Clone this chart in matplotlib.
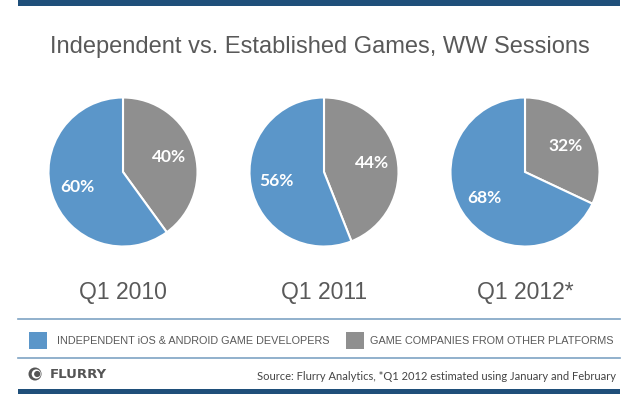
import matplotlib
matplotlib.use("Agg")
import matplotlib.pyplot as plt
from matplotlib.patches import Rectangle, Circle

W, H = 640, 394

TITLE      = "Independent vs. Established Games, WW Sessions"
PERIODS    = ["Q1 2010", "Q1 2011", "Q1 2012*"]
INDEP      = [60, 56, 68]   # independent iOS & Android developers, %
ESTAB      = [40, 44, 32]   # companies from other platforms, %
SERIES     = ["INDEPENDENT iOS & ANDROID GAME DEVELOPERS",
              "GAME COMPANIES FROM OTHER PLATFORMS"]
SOURCE     = "Source: Flurry Analytics, *Q1 2012 estimated using January and February"

BLUE  = "#5b96c9"
GRAY  = "#8f8f8f"
DARK  = "#1f4f7a"
LINE  = "#7ea3c4"
TEXT  = "#595959"

CENTERS_X = [123, 324, 525]
CENTER_Y  = 172
RADIUS    = 76

fig = plt.figure(figsize=(W / 100, H / 100), dpi=100)
bg = fig.add_axes([0, 0, 1, 1])
bg.set_xlim(0, W)
bg.set_ylim(H, 0)
bg.axis("off")

# frame bars and rules
bg.add_patch(Rectangle((18, 0), 602, 6, color=DARK, lw=0))
bg.add_patch(Rectangle((18, 389), 602, 5, color=DARK, lw=0))
bg.plot([18, 620], [319, 319], color=LINE, lw=1.2)
bg.plot([18, 620], [358, 358], color=LINE, lw=1.2)

bg.text(W / 2, 47, TITLE, ha="center", va="center", fontsize=17,
        color=TEXT, family="Liberation Sans")

for i, (cx, ind, est) in enumerate(zip(CENTERS_X, INDEP, ESTAB)):
    ax = fig.add_axes([(cx - RADIUS) / W, (H - CENTER_Y - RADIUS) / H,
                       2 * RADIUS / W, 2 * RADIUS / H])
    ax.pie([est, ind], colors=[GRAY, BLUE], startangle=90, counterclock=False,
           autopct="%d%%", pctdistance=0.65,
           wedgeprops=dict(edgecolor="white", linewidth=1.5),
           textprops=dict(color="white", fontsize=12.5, fontweight="bold",
                          family="Lato"))
    ax.set_xlim(-1.02, 1.02)
    ax.set_ylim(-1.02, 1.02)
    ax.set_aspect("equal")
    bg.text(cx, 293, PERIODS[i], ha="center", va="center", fontsize=16.5,
            color=TEXT, family="Liberation Sans")

# legend
bg.add_patch(Rectangle((29, 332), 18, 17, color=BLUE, lw=0))
bg.text(57, 341, SERIES[0], ha="left", va="center", fontsize=7.85,
        color=TEXT, family="Liberation Sans")
bg.add_patch(Rectangle((346, 332), 18, 17, color=GRAY, lw=0))
bg.text(370, 341, SERIES[1], ha="left", va="center", fontsize=7.85,
        color=TEXT, family="Liberation Sans")

# footer
bg.add_patch(Circle((35, 374), 6.5, color="#555555", lw=0))
bg.add_patch(Circle((36.3, 374), 4.6, color="white", lw=0))
bg.add_patch(Circle((37.2, 374), 3.1, color="#555555", lw=0))
bg.text(50, 374.5, "FLURRY", ha="left", va="center", fontsize=9.5,
        fontweight="bold", color="#555555", family="DejaVu Sans")
bg.text(616, 377, SOURCE, ha="right", va="center", fontsize=8,
        color="#444444", family="Lato")

fig.savefig("out.png", dpi=100)
